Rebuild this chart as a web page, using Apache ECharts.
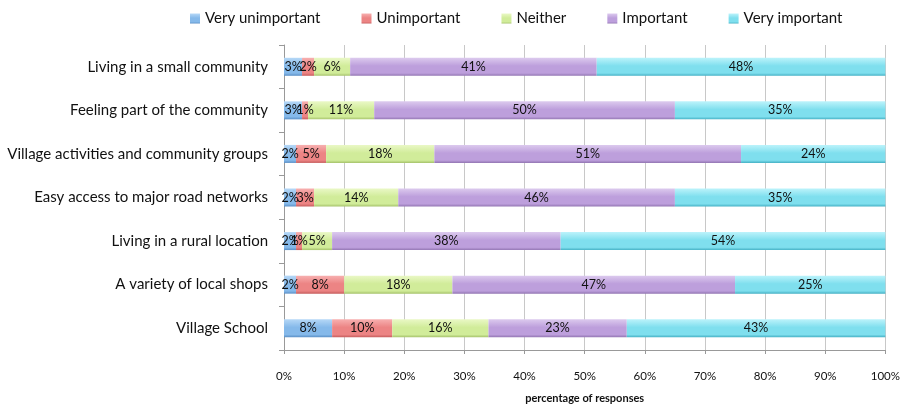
<!DOCTYPE html>
<html>
<head>
<meta charset="utf-8">
<script src="https://cdn.jsdelivr.net/npm/echarts@6/dist/echarts.min.js"></script>
<style>
  html, body { margin: 0; padding: 0; background: #fff; }
  #chart { width: 903px; height: 410px; }
</style>
</head>
<body>
<div id="chart"></div>
<script>
// categories (top to bottom)
var categories = [
  'Living in a small community',
  'Feeling part of the community',
  'Village activities and community groups',
  'Easy access to major road networks',
  'Living in a rural location',
  'A variety of local shops',
  'Village School'
];
var seriesNames = ['Very unimportant', 'Unimportant', 'Neither', 'Important', 'Very important'];

// percentage of responses per category
var veryUnimportant = [3, 3, 2, 2, 2, 2, 8];
var unimportant     = [2, 1, 5, 3, 1, 8, 10];
var neither         = [6, 11, 18, 14, 5, 18, 16];
var important       = [41, 50, 51, 46, 38, 47, 23];
var veryImportant   = [48, 35, 24, 35, 54, 25, 43];

var xTicks = [0, 10, 20, 30, 40, 50, 60, 70, 80, 90, 100];

// light / base / dark shades for the bevelled look
var shades = [
  ['#b6d8f7', '#85b9ea', '#5a8fc6'],
  ['#f7b0b0', '#ec8484', '#c65d5d'],
  ['#eaf8c6', '#d1ec9a', '#a6c36b'],
  ['#dccaee', '#bd9fdc', '#9376b3'],
  ['#bcf3fb', '#7fdfee', '#45b1c5']
];

function grad(s) {
  return new echarts.graphic.LinearGradient(0, 0, 0, 1, [
    { offset: 0, color: s[0] },
    { offset: 0.45, color: s[1] },
    { offset: 0.85, color: s[1] },
    { offset: 1, color: s[2] }
  ]);
}

var allData = [veryUnimportant, unimportant, neither, important, veryImportant];
var fontFam = 'Lato, "Open Sans", sans-serif';

var myChart = echarts.init(document.getElementById('chart'));
var option = {
  animation: false,
  textStyle: { fontFamily: fontFam },
  legend: {
    top: 6,
    left: 185,
    icon: 'rect',
    itemWidth: 10,
    itemHeight: 10,
    itemGap: 41,
    data: seriesNames,
    textStyle: { fontSize: 15, color: '#111', fontFamily: fontFam }
  },
  grid: { left: 284, right: 17, top: 45, bottom: 60 },
  xAxis: {
    type: 'value',
    min: 0,
    max: 100,
    interval: 10,
    name: 'percentage of responses',
    nameLocation: 'middle',
    nameGap: 43,
    nameTextStyle: { fontSize: 11, fontWeight: 'bold', color: '#111' },
    axisLine: { show: true, lineStyle: { color: '#999' } },
    axisTick: { show: true, length: 4, lineStyle: { color: '#999' } },
    axisLabel: {
      margin: 20,
      fontSize: 11.5,
      color: '#111',
      formatter: function (v) { return xTicks.indexOf(v) >= 0 ? v + '%' : ''; }
    },
    splitLine: { show: true, lineStyle: { color: '#c8c8c8' } }
  },
  yAxis: {
    type: 'category',
    inverse: true,
    data: categories,
    axisLine: { show: true, lineStyle: { color: '#999' } },
    axisTick: { show: true, length: 5, lineStyle: { color: '#999' } },
    axisLabel: { fontSize: 15, color: '#111', margin: 16 }
  },
  series: seriesNames.map(function (name, i) {
    return {
      name: name,
      type: 'bar',
      stack: 'total',
      barWidth: 18,
      data: allData[i],
      itemStyle: { color: grad(shades[i]) },
      label: {
        show: true,
        position: 'inside',
        formatter: '{c}%',
        fontSize: 12.5,
        color: '#111'
      }
    };
  }),
  color: shades.map(function (s) { return s[1]; })
};
myChart.setOption(option);
</script>
</body>
</html>
